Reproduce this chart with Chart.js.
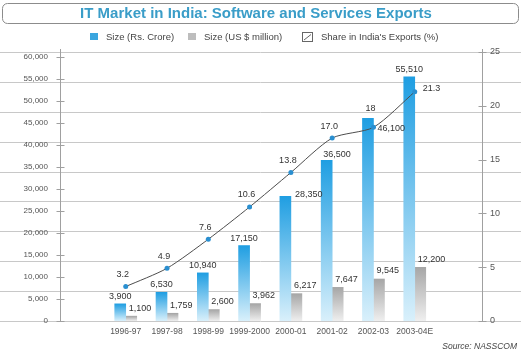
<!DOCTYPE html>
<html>
<head>
<meta charset="utf-8">
<title>IT Market in India</title>
<script src="https://cdn.jsdelivr.net/npm/chart.js@4.4.1/dist/chart.umd.min.js"></script>
<style>
  html, body { margin: 0; padding: 0; background: #fff; }
  #wrap { width: 521px; height: 353px; }
</style>
</head>
<body>
<div id="wrap"><canvas id="itChart"></canvas></div>
<script>
// Data
const categories = ['1996-97', '1997-98', '1998-99', '1999-2000', '2000-01', '2001-02', '2002-03', '2003-04E'];
const sizeRsCrore = [3900, 6530, 10940, 17150, 28350, 36500, 46100, 55510];
const sizeUsMillion = [1100, 1759, 2600, 3962, 6217, 7647, 9545, 12200];
const exportShare = [3.2, 4.9, 7.6, 10.6, 13.8, 17.0, 18, 21.3];
const shareText = ['3.2', '4.9', '7.6', '10.6', '13.8', '17.0', '18', '21.3'];
const leftTicks = [0, 5000, 10000, 15000, 20000, 25000, 30000, 35000, 40000, 45000, 50000, 55000, 60000];
const rightTicks = [0, 5, 10, 15, 20, 25];

const FONT = '"Liberation Sans", Arial, sans-serif';

// where each Rs. Crore label sits relative to its bar
const blueLabelSide = ['top', 'top', 'top', 'top', 'right', 'left', 'rightLow', 'top'];

const xy = arr => arr.map((v, i) => ({ x: i, y: v }));

function barFill(top, bottom) {
  return c => {
    const chart = c.chart;
    if (!chart.chartArea || c.type !== 'data') return top;
    const ys = chart.scales.y;
    const g = chart.ctx.createLinearGradient(0, ys.getPixelForValue(c.raw.y), 0, ys.getPixelForValue(0));
    g.addColorStop(0, top);
    g.addColorStop(1, bottom);
    return g;
  };
}

const decor = {
  id: 'decor',
  beforeDraw(chart) {
    const { ctx, width, height } = chart;
    const y2 = chart.scales.y2;
    ctx.save();
    ctx.fillStyle = '#fff';
    ctx.fillRect(0, 0, width, height);

    // nine bands of grid lines across the whole picture
    ctx.strokeStyle = '#c8c8c8';
    ctx.lineWidth = 1;
    for (let k = 0; k <= 9; k++) {
      const py = Math.round(y2.getPixelForValue(25 * k / 9)) + 0.5;
      ctx.beginPath();
      ctx.moveTo(0, py);
      ctx.lineTo(width, py);
      ctx.stroke();
    }

    // title box
    ctx.strokeStyle = '#8c8c8c';
    ctx.beginPath();
    ctx.roundRect(2.5, 3.5, 516, 20, 5);
    ctx.stroke();
    ctx.fillStyle = '#3a9dc8';
    ctx.font = 'bold 15px ' + FONT;
    ctx.textAlign = 'center';
    ctx.textBaseline = 'middle';
    ctx.fillText('IT Market in India: Software and Services Exports', 256, 13.5);

    // legend
    ctx.font = '9.5px ' + FONT;
    ctx.textAlign = 'left';
    ctx.fillStyle = '#3ba6df';
    ctx.fillRect(90, 33, 8, 7);
    ctx.fillStyle = '#bdbdbd';
    ctx.fillRect(188, 33, 8, 7);
    ctx.strokeStyle = '#666';
    ctx.strokeRect(302.5, 32.5, 10, 9);
    ctx.beginPath();
    ctx.moveTo(304, 40);
    ctx.lineTo(311, 34.5);
    ctx.stroke();
    ctx.fillStyle = '#444';
    ctx.fillText('Size (Rs. Crore)', 106, 37);
    ctx.fillText('Size (US $ million)', 204, 37);
    ctx.fillText("Share in India's Exports (%)", 321, 37);

    // source
    ctx.font = 'italic 8.5px ' + FONT;
    ctx.textAlign = 'right';
    ctx.fillText('Source: NASSCOM', 517, 347);
    ctx.restore();
  },
  beforeDatasetsDraw(chart) {
    const { ctx, chartArea: a, scales: { y, y2 } } = chart;
    ctx.save();
    ctx.strokeStyle = '#a0a0a0';
    ctx.lineWidth = 1;
    [[a.left, y], [a.right, y2]].forEach(([x, s]) => {
      const px = Math.round(x) + 0.5;
      ctx.beginPath();
      ctx.moveTo(px, a.top - 3);
      ctx.lineTo(px, a.bottom);
      ctx.stroke();
      s.ticks.forEach(t => {
        const py = Math.round(s.getPixelForValue(t.value)) + 0.5;
        ctx.beginPath();
        ctx.moveTo(px - 4, py);
        ctx.lineTo(px + 4, py);
        ctx.stroke();
      });
    });
    ctx.restore();
  },
  afterDatasetsDraw(chart) {
    const { ctx } = chart;
    const blue = chart.getDatasetMeta(0).data;
    const gray = chart.getDatasetMeta(1).data;
    const pts = chart.getDatasetMeta(2).data;
    ctx.save();
    ctx.font = '9px ' + FONT;
    ctx.fillStyle = '#333';

    blue.forEach((bar, i) => {
      const txt = sizeRsCrore[i].toLocaleString('en-US');
      const side = blueLabelSide[i];
      if (side === 'right' || side === 'rightLow') {
        ctx.textAlign = 'left';
        ctx.textBaseline = 'middle';
        ctx.fillText(txt, bar.x + bar.width / 2 + 4, bar.y + (side === 'right' ? -2 : 10));
      } else if (side === 'left') {
        ctx.textAlign = 'left';
        ctx.textBaseline = 'bottom';
        ctx.fillText(txt, bar.x - bar.width / 2 + 2, bar.y - 1);
      } else {
        ctx.textAlign = 'center';
        ctx.textBaseline = 'bottom';
        ctx.fillText(txt, bar.x, bar.y - 3);
      }
    });

    ctx.textAlign = 'left';
    ctx.textBaseline = 'middle';
    gray.forEach((bar, i) => {
      ctx.fillText(sizeUsMillion[i].toLocaleString('en-US'), bar.x - bar.width / 2 + 3, bar.y - 8);
    });

    pts.forEach((p, i) => {
      if (i === pts.length - 1) {
        ctx.textAlign = 'left';
        ctx.fillText(shareText[i], p.x + 8, p.y - 3);
      } else {
        // keep the share label clear of the bar top when the bar is higher than the point
        const top = Math.min(p.y, blue[i].y + 2);
        ctx.textAlign = 'center';
        ctx.fillText(shareText[i], p.x - 3, top - 12);
      }
    });
    ctx.restore();
  }
};

new Chart(document.getElementById('itChart'), {
  type: 'bar',
  data: {
    datasets: [
      {
        label: 'Size (Rs. Crore)',
        data: xy(sizeRsCrore),
        backgroundColor: barFill('#1f9ee2', '#d9f0fb'),
        barThickness: 11,
        yAxisID: 'y',
        order: 1
      },
      {
        label: 'Size (US $ million)',
        data: xy(sizeUsMillion),
        backgroundColor: barFill('#a6a6a6', '#efefef'),
        barThickness: 11,
        yAxisID: 'y',
        order: 1
      },
      {
        type: 'line',
        label: "Share in India's Exports (%)",
        data: xy(exportShare),
        borderColor: '#4d4d4d',
        borderWidth: 1,
        tension: 0.25,
        pointRadius: 2.5,
        pointBackgroundColor: '#2a8fd0',
        pointBorderWidth: 0,
        yAxisID: 'y2',
        order: 0
      }
    ]
  },
  options: {
    responsive: true,
    maintainAspectRatio: false,
    animation: false,
    events: [],
    layout: { padding: { top: 52, left: 0, right: 0, bottom: 0 } },
    plugins: {
      legend: { display: false },
      tooltip: { enabled: false }
    },
    scales: {
      x: {
        type: 'linear',
        min: -0.953,
        max: 7.99,
        grid: { display: false, drawTicks: false },
        border: { display: false },
        afterBuildTicks: s => { s.ticks = categories.map((c, i) => ({ value: i })); },
        afterFit: s => { s.height = 32; },
        ticks: {
          autoSkip: false,
          maxRotation: 0,
          padding: 6,
          color: '#555',
          font: { family: FONT, size: 8.5 },
          callback: v => categories[v]
        }
      },
      y: {
        position: 'left',
        min: 0,
        max: 61150,
        grid: { display: false, drawTicks: false },
        border: { display: false },
        afterBuildTicks: s => { s.ticks = leftTicks.map(v => ({ value: v })); },
        afterFit: s => { s.width = 60; },
        ticks: {
          padding: 12,
          color: '#555',
          font: { family: FONT, size: 8 },
          callback: v => v.toLocaleString('en-US')
        }
      },
      y2: {
        position: 'right',
        min: 0,
        max: 25,
        grid: { display: false, drawTicks: false },
        border: { display: false },
        afterBuildTicks: s => { s.ticks = rightTicks.map(v => ({ value: v })); },
        afterFit: s => { s.width = 39; },
        ticks: {
          padding: 8,
          color: '#555',
          font: { family: FONT, size: 9 }
        }
      }
    }
  },
  plugins: [decor]
});
</script>
</body>
</html>
